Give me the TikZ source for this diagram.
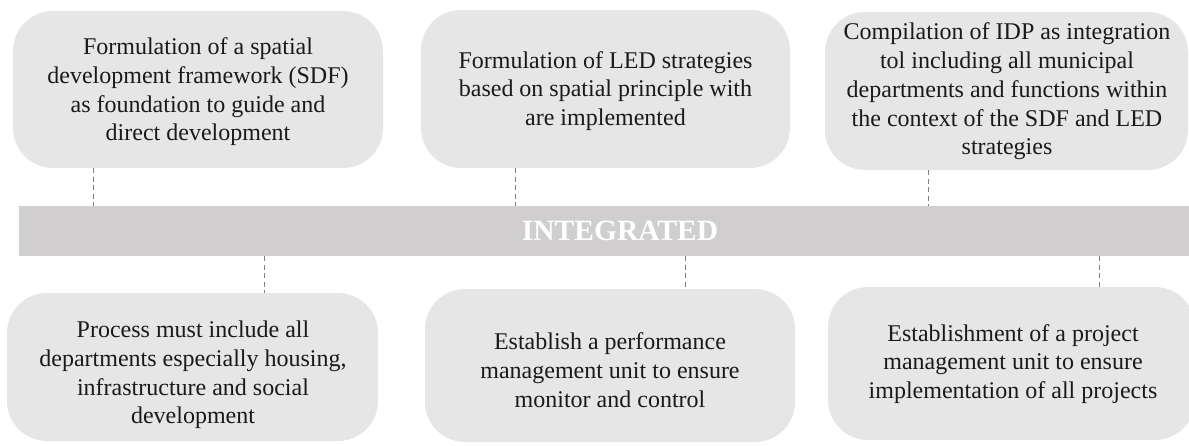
\documentclass[tikz,border=0pt]{standalone}
\usepackage{fontspec}
\setmainfont{Liberation Serif}
\definecolor{boxgray}{HTML}{E6E6E6}
\definecolor{bandgray}{HTML}{D0CECF}
\definecolor{dashgray}{HTML}{7F7F7F}
\definecolor{txt}{HTML}{1A1A1A}
\begin{document}
\begin{tikzpicture}[x=1pt,y=-1pt,
 box/.style={fill=boxgray, rounded corners=40pt, inner sep=0pt},
 boxtext/.style={align=center, inner sep=0pt, text=txt, font=\fontsize{24}{28.7}\selectfont},
 dashline/.style={draw=dashgray, line width=1pt, dash pattern=on 5pt off 3.5pt}]
\useasboundingbox (0,0) rectangle (1189,445);
% top boxes
\node[box, minimum width=370pt, minimum height=157pt] (t1) at (198,89.5) {};
\node[boxtext] (t1t) at (198,92) {Formulation of a spatial\\development framework (SDF)\\as foundation to guide and\\direct development};
\node[box, minimum width=369pt, minimum height=158pt] (t2) at (605.5,89) {};
\node[boxtext] (t2t) at (605.5,91) {Formulation of LED strategies\\based on spatial principle with\\are implemented};
\node[box, minimum width=363pt, minimum height=158pt] (t3) at (1006.5,91) {};
\node[boxtext] (t3t) at (1007,91.5) {Compilation of IDP as integration\\tol including all municipal\\departments and functions within\\the context of the SDF and LED\\strategies};
% band
\node[fill=bandgray, minimum width=1170pt, minimum height=50pt, inner sep=0pt] (band) at (604,231) {};
\node[text=white, font=\fontsize{29.5}{31}\selectfont\bfseries, inner sep=0pt] (lbl) at (620,231) {INTEGRATED};
% bottom boxes
\node[box, minimum width=371pt, minimum height=148pt] (b1) at (192.5,367) {};
\node[boxtext] (b1t) at (193,375) {Process must include all\\departments especially housing,\\infrastructure and social\\development};
\node[box, minimum width=370pt, minimum height=153pt] (b2) at (610,365.5) {};
\node[boxtext] (b2t) at (610,370) {Establish a performance\\management unit to ensure\\monitor and control};
\node[box, minimum width=367pt, minimum height=153pt] (b3) at (1011.5,363.5) {};
\node[boxtext] (b3t) at (1013,364) {Establishment of a project\\management unit to ensure\\implementation of all projects};
% connector positions
\coordinate (d1) at (93,190);
\coordinate (d2) at (515,190);
\coordinate (d3) at (928,190);
\coordinate (e1) at (264,270);
\coordinate (e2) at (685,270);
\coordinate (e3) at (1099,270);
\draw[dashline] (t1.south -| d1) -- (band.north -| d1);
\draw[dashline] (t2.south -| d2) -- (band.north -| d2);
\draw[dashline] (t3.south -| d3) -- (band.north -| d3);
\draw[dashline] (band.south -| e1) -- (b1.north -| e1);
\draw[dashline] (band.south -| e2) -- (b2.north -| e2);
\draw[dashline] (band.south -| e3) -- (b3.north -| e3);
\end{tikzpicture}
\end{document}
